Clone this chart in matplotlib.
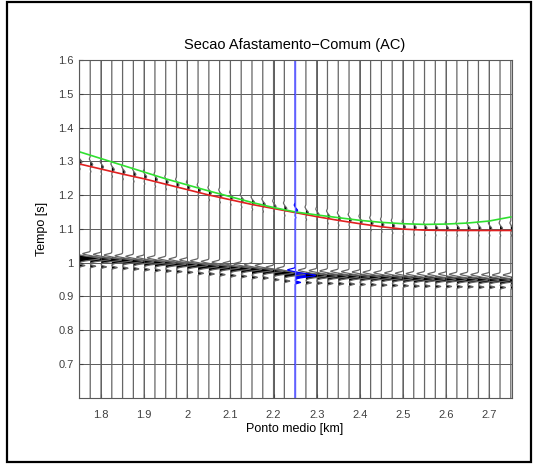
import numpy as np
import matplotlib
matplotlib.use('Agg')
import matplotlib.pyplot as plt
from matplotlib.patches import Rectangle
from matplotlib.ticker import FormatStrFormatter

plt.rcParams['font.family'] = ['Liberation Sans', 'DejaVu Sans']

# traces (ponto medio, km) and picked event time of the strong reflection [s]
trace_x = np.round(np.arange(1.75, 2.7501, 0.025), 3)
event_t = [1.012, 1.010, 1.008, 1.006, 1.004, 1.002, 1.000, 0.998, 0.996, 0.994,
           0.992, 0.989, 0.987, 0.985, 0.982, 0.980, 0.977, 0.975, 0.970, 0.966,
           0.962, 0.961, 0.960, 0.959, 0.958, 0.957, 0.956, 0.955, 0.954, 0.953,
           0.952, 0.951, 0.951, 0.950, 0.950, 0.949, 0.949, 0.948, 0.948, 0.947,
           0.947]

# red / green curves
curve_x = [1.75, 1.80, 1.85, 1.90, 1.95, 2.00, 2.05, 2.10, 2.15, 2.20, 2.25,
           2.30, 2.35, 2.40, 2.45, 2.50, 2.55, 2.60, 2.65, 2.70, 2.75]
red_t = [1.292, 1.277, 1.262, 1.248, 1.232, 1.216, 1.200, 1.186, 1.172, 1.160, 1.148,
         1.136, 1.125, 1.115, 1.106, 1.099, 1.096, 1.095, 1.095, 1.095, 1.095]
green_t = [1.328, 1.308, 1.288, 1.268, 1.248, 1.230, 1.212, 1.195, 1.178, 1.163, 1.150,
           1.141, 1.133, 1.125, 1.119, 1.115, 1.113, 1.114, 1.117, 1.123, 1.135]

sel_x = 2.25

dx = 0.025
t = np.linspace(0.6, 1.6, 4001)

def wavelet(tau):
    return (1.9 * np.exp(-(tau / 0.0065) ** 2)
            - 0.7 * np.exp(-((tau - 0.016) / 0.004) ** 2)
            + 0.5 * np.exp(-((tau + 0.021) / 0.003) ** 2))

fig = plt.figure(figsize=(5.36, 4.65), dpi=100)
ax = fig.add_axes([0.1466, 0.145, 0.808, 0.726])

red_interp = np.interp(trace_x, curve_x, red_t)
for i, x0 in enumerate(trace_x):
    amp = wavelet(t - event_t[i]) + 0.12 * wavelet(t - red_interp[i] - 0.006)
    xs = x0 + dx * amp
    col = 'blue' if abs(x0 - sel_x) < 1e-6 else 'black'
    ax.fill_betweenx(t, x0, xs, where=amp > 0, color=col, lw=0)
    ax.plot(xs, t, color=col if col == 'blue' else '0.4', lw=0.9)

ax.plot(curve_x, red_t, color='#e02020', lw=1.2)
ax.plot(curve_x, green_t, color='#30e030', lw=1.2)
ax.axvline(sel_x, color='#6060ff', lw=1.0)

ax.set_xlim(1.748, 2.752)
ax.set_ylim(0.6, 1.6)
ax.set_xticks(np.arange(1.8, 2.71, 0.1))
ax.set_yticks(np.arange(0.7, 1.61, 0.1))
ax.xaxis.set_major_formatter(FormatStrFormatter('%g'))
ax.yaxis.set_major_formatter(FormatStrFormatter('%g'))
ax.grid(True, color='0.25', lw=0.6)
ax.tick_params(direction='in', length=3, labelsize=8, colors='0.25')
ax.tick_params(axis='x', pad=9)
for s in ax.spines.values():
    s.set_color('0.35')
    s.set_linewidth(0.8)

ax.set_title('Secao Afastamento\u2212Comum (AC)', fontsize=10.5, pad=8)
ax.set_xlabel('Ponto medio [km]', fontsize=9, labelpad=2)
ax.set_ylabel('Tempo [s]', fontsize=9, labelpad=7)

fig.patches.append(Rectangle((6.5 / 536, 3 / 465), 524 / 536, 460 / 465,
                             transform=fig.transFigure, fill=False,
                             edgecolor='black', lw=1.6))

fig.savefig('out.png', dpi=100)
